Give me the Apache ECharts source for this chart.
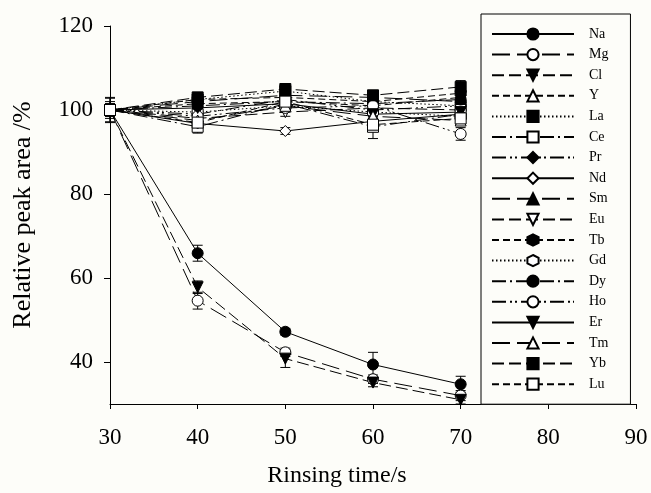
<!DOCTYPE html>
<html>
<head>
<meta charset="utf-8">
<script src="https://cdn.jsdelivr.net/npm/echarts@6/dist/echarts.min.js"></script>
<style>
html, body { margin: 0; padding: 0; background: #fdfdf9; }
#main { width: 651px; height: 493px; }
</style>
</head>
<body>
<div id="main"></div>
<script>
// rinsing time (s)
var times = [30, 40, 50, 60, 70];
var xTicks = [30, 40, 50, 60, 70, 80, 90];
var yTicks = [40, 60, 80, 100, 120];
var elements = ['Na', 'Mg', 'Cl', 'Y', 'La', 'Ce', 'Pr', 'Nd', 'Sm', 'Eu',
                'Tb', 'Gd', 'Dy', 'Ho', 'Er', 'Tm', 'Yb', 'Lu'];

// relative peak area (%) and error
var Na = [100, 65.9, 47.2, 39.4, 34.7];   var NaErr = [1.5, 1.9, 0.8, 2.9, 1.9];
var Mg = [100, 54.6, 42.3, 35.9, 32.0];   var MgErr = [1.2, 2.0, 1.0, 1.0, 1.2];
var Cl = [100, 57.8, 40.8, 35.1, 31.0];   var ClErr = [1.0, 1.5, 2.1, 1.0, 1.0];
var Y  = [100, 101.5, 102, 101, 103];     var YErr  = [1.5, 1.2, 1.0, 1.2, 1.5];
var La = [100, 102.5, 104.5, 102, 101];   var LaErr = [1.0, 1.0, 1.0, 1.0, 1.0];
var Ce = [100, 96, 101.5, 96, 99];        var CeErr = [2.0, 1.5, 1.0, 2.8, 1.5];
var Pr = [100, 99, 102.5, 100, 101];      var PrErr = [1.0, 1.0, 1.0, 1.0, 1.0];
var Nd = [100, 96.8, 95, 97.3, 99];       var NdErr = [1.0, 0.8, 0.8, 1.0, 1.0];
var Sm = [100, 102, 103.5, 103, 102];     var SmErr = [1.0, 1.0, 1.0, 1.0, 1.0];
var Eu = [100, 98, 99.5, 100.5, 100];     var EuErr = [1.0, 1.0, 1.0, 1.0, 1.0];
var Tb = [100, 102.5, 103, 102, 104];     var TbErr = [1.0, 1.0, 1.0, 1.0, 1.0];
var Gd = [100, 99.5, 101, 99.5, 98.5];    var GdErr = [1.0, 1.0, 1.0, 1.0, 1.0];
var Dy = [100, 101, 102, 101.5, 102.5];   var DyErr = [1.0, 1.0, 1.0, 1.0, 1.0];
var Ho = [100, 98.5, 100.5, 101, 94.3];   var HoErr = [1.0, 1.0, 1.0, 1.0, 1.5];
var Er = [100, 100.5, 101.5, 99, 99.5];   var ErErr = [1.0, 1.0, 1.0, 1.0, 1.0];
var Tm = [100, 97.5, 101, 98.5, 97.5];    var TmErr = [1.0, 1.0, 1.0, 1.0, 1.0];
var Yb = [100, 103, 105, 103.5, 105.5];   var YbErr = [2.8, 1.2, 1.0, 1.0, 1.5];
var Lu = [100, 97, 102, 96.5, 98];        var LuErr = [3.0, 1.5, 1.0, 1.5, 1.5];

var values = [Na, Mg, Cl, Y, La, Ce, Pr, Nd, Sm, Eu, Tb, Gd, Dy, Ho, Er, Tm, Yb, Lu];
var errors = [NaErr, MgErr, ClErr, YErr, LaErr, CeErr, PrErr, NdErr, SmErr, EuErr,
              TbErr, GdErr, DyErr, HoErr, ErErr, TmErr, YbErr, LuErr];

// SigmaPlot style cycles
var dashes = ['solid', [18, 7], [12, 5], [7, 4], [1.5, 2.5], [14, 4, 2, 4], [14, 4, 2, 3, 2, 4]];
var downTri = 'path://M0,0 L10,0 L5,9 Z';
var hexagon = 'path://M5,0 L9.33,2.5 L9.33,7.5 L5,10 L0.67,7.5 L0.67,2.5 Z';
var marks = [
    ['circle', true], ['circle', false], [downTri, true], ['triangle', false],
    ['rect', true], ['rect', false], ['diamond', true], ['diamond', false],
    ['triangle', true], [downTri, false], [hexagon, true], [hexagon, false]
];

var serif = 'Liberation Serif';
var series = elements.map(function (name, i) {
    var m = marks[i % marks.length];
    return {
        name: name,
        type: 'line',
        data: times.map(function (t, k) { return [t, values[i][k]]; }),
        symbol: m[0],
        symbolSize: 11,
        z: 3,
        lineStyle: { color: '#000', width: 1, type: dashes[i % dashes.length] },
        itemStyle: { color: m[1] ? '#000' : '#fff', borderColor: '#000', borderWidth: 1 }
    };
});

var errData = [];
values.forEach(function (v, i) {
    times.forEach(function (t, k) { errData.push([t, v[k], errors[i][k]]); });
});
series.push({
    type: 'custom',
    z: 2,
    data: errData,
    encode: { x: 0, y: 1 },
    renderItem: function (params, api) {
        var x = api.value(0), y = api.value(1), e = api.value(2);
        var top = api.coord([x, y + e]);
        var bot = api.coord([x, y - e]);
        var st = { stroke: '#000', lineWidth: 1 };
        return {
            type: 'group',
            children: [
                { type: 'line', shape: { x1: top[0], y1: top[1], x2: bot[0], y2: bot[1] }, style: st },
                { type: 'line', shape: { x1: top[0] - 5, y1: top[1], x2: top[0] + 5, y2: top[1] }, style: st },
                { type: 'line', shape: { x1: bot[0] - 5, y1: bot[1], x2: bot[0] + 5, y2: bot[1] }, style: st }
            ]
        };
    }
});

var chart = echarts.init(document.getElementById('main'));
chart.setOption({
    backgroundColor: '#fdfdf9',
    animation: false,
    grid: { left: 110, right: 15, top: 26, bottom: 89 },
    xAxis: {
        type: 'value',
        min: 30,
        max: 90,
        interval: 10,
        name: 'Rinsing time/s',
        nameLocation: 'middle',
        nameGap: 60,
        nameTextStyle: { fontFamily: serif, fontSize: 24, color: '#000', padding: [0, 72, 0, 0] },
        axisLine: { lineStyle: { color: '#000', width: 1 } },
        axisTick: { inside: false, length: 5, lineStyle: { color: '#000' }, customValues: xTicks },
        axisLabel: { fontFamily: serif, fontSize: 23, color: '#000', margin: 22, customValues: xTicks },
        splitLine: { show: false }
    },
    yAxis: {
        type: 'value',
        min: 30,
        max: 120,
        name: 'Relative peak area /%',
        nameLocation: 'middle',
        nameGap: 74,
        nameTextStyle: { fontFamily: serif, fontSize: 26, color: '#000' },
        axisLine: { show: true, lineStyle: { color: '#000', width: 1 } },
        axisTick: { show: true, length: 6, lineStyle: { color: '#000' }, customValues: yTicks },
        axisLabel: { fontFamily: serif, fontSize: 23, color: '#000', margin: 17, customValues: yTicks },
        splitLine: { show: false }
    },
    legend: {
        data: elements,
        orient: 'vertical',
        left: 481,
        top: 14,
        itemWidth: 82,
        itemHeight: 14,
        itemGap: 6.6,
        padding: [13, 22, 13, 10],
        backgroundColor: '#fdfdf9',
        borderColor: '#000',
        borderWidth: 1,
        borderRadius: 0,
        selectedMode: false,
        textStyle: { fontFamily: serif, fontSize: 14, color: '#000', padding: [0, 0, 0, 10] }
    },
    series: series
});
</script>
</body>
</html>
